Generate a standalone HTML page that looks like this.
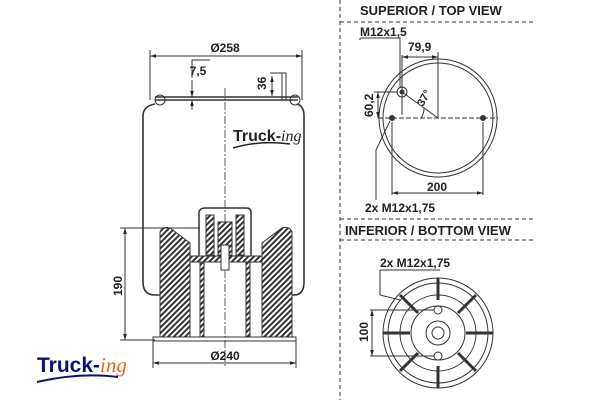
<!DOCTYPE html>
<html><head><meta charset="utf-8"><style>
body{margin:0;background:#fff}
svg{display:block;font-family:"Liberation Sans",Arial,sans-serif;font-weight:bold}
</style></head><body>
<svg width="600" height="400" viewBox="0 0 600 400" xmlns="http://www.w3.org/2000/svg">
<defs>
<pattern id="h" width="4" height="4" patternUnits="userSpaceOnUse" patternTransform="rotate(45)">
<rect width="4" height="4" fill="#fff"/><rect width="2" height="4" fill="#333"/></pattern>
<marker id="a" viewBox="0 0 10 10" refX="10" refY="5" markerWidth="6" markerHeight="6" orient="auto-start-reverse"><path d="M0,2L10,5L0,8z" fill="#222"/></marker>
</defs>
<g stroke="#333" fill="none" stroke-width="1">
<!-- dims -->
<line x1="150" y1="50" x2="150" y2="100"/><line x1="302" y1="50" x2="302" y2="100"/>
<line x1="150" y1="56" x2="302" y2="56" marker-start="url(#a)" marker-end="url(#a)"/>
<polyline points="192,78 192,60 210,60"/><line x1="192" y1="80" x2="192" y2="97" marker-end="url(#a)"/><line x1="192" y1="110" x2="192" y2="100" marker-end="url(#a)"/>
<line x1="270" y1="73" x2="282" y2="73"/><line x1="272" y1="76" x2="272" y2="96" marker-start="url(#a)" marker-end="url(#a)"/>
<rect x="282" y="73" width="4" height="27"/>
<!-- top plate -->
<path d="M155,97 L298,97 M155,100 L298,100" stroke-width="1.4"/>
<circle cx="160" cy="100" r="5"/><circle cx="295" cy="100" r="5"/>
<path d="M155,104 Q143,106 143,116 L143,282 Q143,295 155,295 L160,295" stroke-width="1.6"/>
<path d="M297,104 Q304,106 304,116 L304,282 Q304,295 294,295 L290,295" stroke-width="1.6"/>
<line x1="225" y1="88" x2="225" y2="368" stroke-dasharray="8,2,2,2" stroke-width="0.8"/>
<!-- piston -->
<path d="M160,232 Q162,226 170,228 L190,243 L190,337 L160,337 Z" fill="url(#h)"/>
<path d="M292,232 Q290,226 282,228 L262,243 L262,337 L292,337 Z" fill="url(#h)"/>
<path d="M199,258 L199,212 Q200,208 205,208 L246,208 Q251,208 251,212 L251,258" stroke-width="1.5"/>
<path d="M206,215 L214,215 L214,255 L206,255Z M236,215 L244,215 L244,255 L236,255Z M218,222 L232,222 L232,255 L218,255Z" fill="url(#h)"/>
<path d="M190,256 L262,256 L262,262 L190,262Z" fill="url(#h)"/>
<rect x="200" y="262" width="4" height="75" fill="url(#h)"/><rect x="246" y="262" width="4" height="75" fill="url(#h)"/>
<rect x="221" y="245" width="8" height="25" fill="#fff"/>
<rect x="153" y="337" width="143" height="4"/>
<!-- 190 -->
<line x1="120" y1="228" x2="200" y2="228"/><line x1="120" y1="340" x2="155" y2="340"/>
<line x1="125" y1="228" x2="125" y2="340" marker-start="url(#a)" marker-end="url(#a)"/>
<line x1="153" y1="341" x2="153" y2="368"/><line x1="296" y1="341" x2="296" y2="368"/>
<line x1="153" y1="363" x2="296" y2="363" marker-start="url(#a)" marker-end="url(#a)"/>
<!-- panel lines -->
<line x1="340" y1="0" x2="340" y2="400" stroke-dasharray="4,3"/>
<line x1="340" y1="22" x2="535" y2="22" stroke-dasharray="4,3"/>
<line x1="340" y1="219" x2="535" y2="219" stroke-dasharray="4,3"/>
<line x1="340" y1="240" x2="535" y2="240" stroke-dasharray="4,3"/>
<!-- top view -->
<circle cx="438" cy="118" r="59"/><circle cx="438" cy="118" r="55"/>
<line x1="378" y1="118" x2="498" y2="118" stroke-dasharray="5,2"/>
<line x1="438" y1="52" x2="438" y2="118"/>
<line x1="402" y1="92" x2="438" y2="118"/>
<circle cx="402" cy="92" r="5"/><circle cx="402" cy="92" r="2" fill="#333"/>
<circle cx="392" cy="118" r="2.5" fill="#333"/><circle cx="483" cy="118" r="2.5" fill="#333"/>
<line x1="402" y1="57" x2="438" y2="57" marker-start="url(#a)" marker-end="url(#a)"/>
<line x1="402" y1="55" x2="402" y2="115"/>
<line x1="374" y1="92" x2="398" y2="92"/><line x1="378" y1="92" x2="378" y2="118" marker-start="url(#a)" marker-end="url(#a)"/>
<polyline points="360,38 400,38 400,88" /><line x1="360" y1="38" x2="360" y2="40"/>
<path d="M421,118 A17,17 0 0 0 424,108"/>
<line x1="392" y1="122" x2="392" y2="195"/><line x1="483" y1="122" x2="483" y2="195"/>
<line x1="392" y1="193" x2="483" y2="193" marker-start="url(#a)" marker-end="url(#a)"/>
<polyline points="390,121 376,150 376,200"/>
<!-- bottom view -->
<circle cx="438" cy="333" r="55"/><circle cx="438" cy="333" r="50"/><circle cx="438" cy="333" r="38"/><circle cx="438" cy="333" r="27"/><circle cx="438" cy="333" r="12"/><circle cx="438" cy="333" r="6"/>
<g stroke-width="3">
<line x1="438" y1="278" x2="438" y2="300"/><line x1="438" y1="366" x2="438" y2="388"/>
<line x1="383" y1="333" x2="410" y2="333"/><line x1="466" y1="333" x2="493" y2="333"/>
<line x1="400" y1="295" x2="418" y2="313"/><line x1="476" y1="295" x2="458" y2="313"/>
<line x1="400" y1="371" x2="418" y2="353"/><line x1="476" y1="371" x2="458" y2="353"/>
</g>
<circle cx="438" cy="310" r="4" fill="#fff"/><circle cx="438" cy="356" r="4" fill="#fff"/>
<line x1="370" y1="310" x2="434" y2="310"/><line x1="370" y1="356" x2="434" y2="356"/>
<line x1="372" y1="310" x2="372" y2="356" marker-start="url(#a)" marker-end="url(#a)"/>
<polyline points="440,270 380,270 380,295 400,300"/>
</g>
<g fill="#222" font-size="12">
<text x="225" y="52" text-anchor="middle">Ø258</text>
<text x="198" y="75" text-anchor="middle">7,5</text>
<text transform="translate(266,90) rotate(-90)">36</text>
<text transform="translate(122,296) rotate(-90)">190</text>
<text x="225" y="360" text-anchor="middle">Ø240</text>
<text x="360" y="15" font-size="13">SUPERIOR / TOP VIEW</text>
<text x="360" y="36">M12x1,5</text>
<text x="408" y="51">79,9</text>
<text transform="translate(373,117) rotate(-90)">60,2</text>
<text transform="translate(423,107) rotate(-60)" font-size="11">37°</text>
<text x="437" y="191" text-anchor="middle">200</text>
<text x="365" y="212">2x M12x1,75</text>
<text x="345" y="235" font-size="13">INFERIOR / BOTTOM VIEW</text>
<text x="380" y="267">2x M12x1,75</text>
<text transform="translate(368,342) rotate(-90)">100</text>
</g>
<g font-size="16" font-weight="bold">
<text x="233" y="141" fill="#222">Truck-<tspan font-style="italic" font-weight="normal" font-family="Liberation Serif">ing</tspan></text>
<path d="M233,148 Q260,140 290,144" stroke="#222" fill="none" stroke-width="1.5"/>
<text x="37" y="372" fill="#0d1270" font-size="21">Truck-<tspan fill="#e8651a" font-style="italic" font-weight="normal" font-family="Liberation Serif">ing</tspan></text>
<path d="M37,382 Q80,372 118,377" stroke="#0d1270" fill="none" stroke-width="2"/>
</g>
</svg>
</body></html>
